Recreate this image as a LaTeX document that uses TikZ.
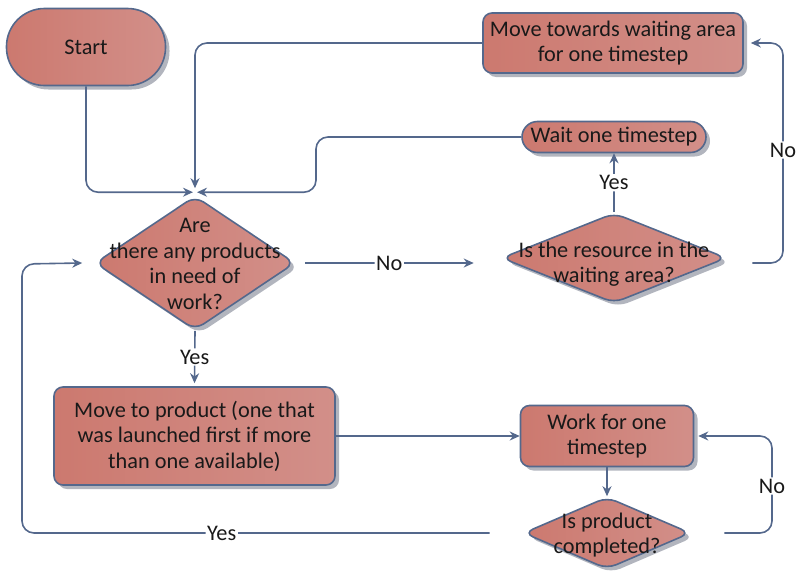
\documentclass[tikz,border=0pt]{standalone}
\usepackage{fontspec}
\setmainfont{Carlito}
\usetikzlibrary{shapes.geometric,shadows,arrows.meta,calc}
\definecolor{lineblue}{RGB}{84,104,140}
\definecolor{fillA}{RGB}{204,121,111}
\definecolor{fillB}{RGB}{210,143,137}
\definecolor{shadowgray}{RGB}{178,181,190}
\definecolor{txt}{RGB}{25,25,25}
\tikzset{
  fc/.style={draw=lineblue, line width=1.6pt, left color=fillA, right color=fillB,
    text=txt, font=\fontsize{22.3}{25.5}\selectfont, align=center, inner sep=0pt,
    drop shadow={shadow xshift=4pt, shadow yshift=-4pt, fill=shadowgray, opacity=1}},
  boxnode/.style={fc, rectangle, rounded corners=9pt},
  dia/.style={fc, diamond, rounded corners=10pt},
  dtext/.style={text=txt, font=\fontsize{22.3}{25.5}\selectfont, align=center, inner sep=0pt},
  conn/.style={draw=lineblue, line width=1.6pt, rounded corners=12pt, -{Stealth[length=10pt,width=9pt]}},
  lbl/.style={fill=white, inner sep=1.5pt, text=txt, font=\fontsize{22.3}{25.5}\selectfont}
}
\begin{document}
\begin{tikzpicture}[x=1pt,y=-1pt]
\useasboundingbox (0,0) rectangle (800,573);
% nodes
\node[fc, rectangle, rounded corners=38pt, minimum width=159pt, minimum height=77pt] (start) at (86,47) {Start};
\node[boxnode, minimum width=260pt, minimum height=60pt] (mtw) at (613,43) {Move towards waiting area\\for one timestep};
\node[fc, rectangle, rounded corners=15.5pt, minimum width=184pt, minimum height=31pt] (wait) at (614,137) {Wait one timestep};
\node[dia, minimum width=200pt, minimum height=134pt] (d1) at (195,263) {};
\node[dtext] (d1t) at (195,264) {Are\\there any products\\in need of\\work?};
\node[dia, minimum width=225pt, minimum height=90pt] (d2) at (614,258) {};
\node[dtext] (d2t) at (614,264) {Is the resource in the\\waiting area?};
\node[boxnode, minimum width=281pt, minimum height=98pt] (mp) at (194.5,436) {Move to product (one that\\was launched first if more\\than one available)};
\node[boxnode, minimum width=173pt, minimum height=61pt] (work) at (607,436) {Work for one\\timestep};
\node[dia, minimum width=167pt, minimum height=72pt] (d3) at (607,533) {};
\node[dtext] (d3t) at (607,535) {Is product\\completed?};
% connectors
\draw[conn] (start.south) |- ([xshift=-2pt,yshift=3pt]d1.north);
\draw[conn] (mtw.west) -| ([yshift=7pt]d1.north);
\draw[conn] (wait.west) -| (316,165) |- ([xshift=2pt,yshift=3pt]d1.north);
\draw[conn] ([xshift=9pt]d1.east) -- node[lbl]{No} ([xshift=-27pt]d2.west |- d1.east);
\draw[conn] (d2.north) -- node[lbl]{Yes} (wait.south);
\draw[conn] ([xshift=25pt]d2.east |- d1.east) -| (783,150) node[lbl]{No} |- ([xshift=7pt]mtw.east);
\draw[conn] (d1.south) -- node[lbl]{Yes} ([yshift=3pt]mp.north);
\draw[conn] (mp.east) -- (work.west);
\draw[conn] (work.south) -- (d3.north);
\draw[conn] ([xshift=33pt]d3.east) -| (772,486) node[lbl]{No} |- ([xshift=4pt]work.east);
\draw[conn] ([xshift=-33pt]d3.west) -- node[lbl,pos=0.573]{Yes} (22,533) -- (22,264) -- ([xshift=-12pt]d1.west);
\end{tikzpicture}
\end{document}
